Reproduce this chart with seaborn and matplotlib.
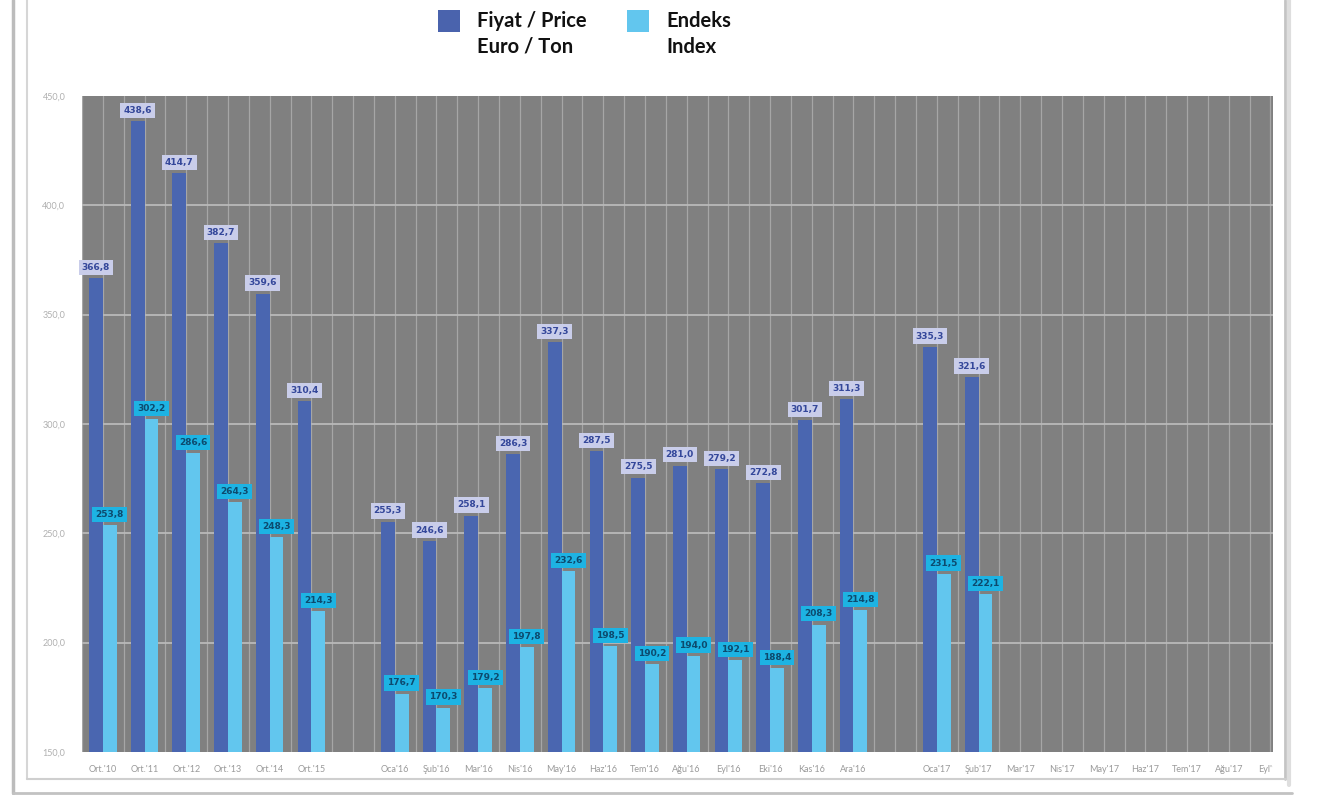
import matplotlib
matplotlib.use("Agg")
import numpy as np
import pandas as pd
import matplotlib.pyplot as plt
import seaborn as sns
from matplotlib.patches import Rectangle
from matplotlib.lines import Line2D
from matplotlib.transforms import Bbox, TransformedBbox

# ---- data -------------------------------------------------------------
# full slot sequence on the x axis (blank slots separate the yearly averages,
# 2016 and 2017)
slot_keys = ["Ort.'10", "Ort.'11", "Ort.'12", "Ort.'13", "Ort.'14", "Ort.'15", "gap1",
             "Oca'16", "Şub'16", "Mar'16", "Nis'16", "May'16", "Haz'16",
             "Tem'16", "Ağu'16", "Eyl'16", "Eki'16", "Kas'16", "Ara'16", "gap2",
             "Oca'17", "Şub'17", "Mar'17", "Nis'17", "May'17", "Haz'17",
             "Tem'17", "Ağu'17", "Eyl'17"]
tick_labels = [("" if k.startswith("gap") else k) for k in slot_keys]

periods = ["Ort.'10", "Ort.'11", "Ort.'12", "Ort.'13", "Ort.'14", "Ort.'15",
           "Oca'16", "Şub'16", "Mar'16", "Nis'16", "May'16", "Haz'16",
           "Tem'16", "Ağu'16", "Eyl'16", "Eki'16", "Kas'16", "Ara'16",
           "Oca'17", "Şub'17"]
price = [366.8, 438.6, 414.7, 382.7, 359.6, 310.4,
         255.3, 246.6, 258.1, 286.3, 337.3, 287.5,
         275.5, 281.0, 279.2, 272.8, 301.7, 311.3,
         335.3, 321.6]
index = [253.8, 302.2, 286.6, 264.3, 248.3, 214.3,
         176.7, 170.3, 179.2, 197.8, 232.6, 198.5,
         190.2, 194.0, 192.1, 188.4, 208.3, 214.8,
         231.5, 222.1]
series_names = ["Fiyat / Price", "Endeks / Index"]
y_ticks = [150, 200, 250, 300, 350, 400, 450]

df = pd.concat([
    pd.DataFrame({"period": periods, "value": price, "series": series_names[0]}),
    pd.DataFrame({"period": periods, "value": index, "series": series_names[1]}),
], ignore_index=True)

# ---- style ------------------------------------------------------------
PRICE_C = "#4a66b0"
INDEX_C = "#62c6ee"
W, H = 1323, 795

sns.set_style("white")
plt.rcParams["font.family"] = ["Lato", "DejaVu Sans"]

fig = plt.figure(figsize=(W / 100, H / 100), dpi=100)
fig.patch.set_facecolor("white")


def fx(x):
    return x / W


def fy(y):
    return 1 - y / H


ax = fig.add_axes([fx(82), fy(752), (1273 - 82) / W, (752 - 96) / H])
ax.set_facecolor("#808080")

sns.barplot(data=df, x="period", y="value", hue="series",
            order=slot_keys, hue_order=series_names,
            palette=[PRICE_C, INDEX_C], saturation=1,
            width=0.66, gap=0, legend=False, linewidth=0,
            errorbar=None, ax=ax, zorder=2)

ax.set_xlim(-0.5, 28.06)
ax.set_ylim(150, 450)

# grid: a vertical line every half slot, horizontal lines at the y ticks
for k in np.arange(-0.5, 28.1, 0.5):
    ax.axvline(k, color="#a6a6a6", lw=0.9, zorder=0.5)
for v in y_ticks[1:-1]:
    ax.axhline(v, color="#b9b9b9", lw=1.3, zorder=0.6)

for s in ax.spines.values():
    s.set_visible(False)

ax.set_xticks(range(len(slot_keys)))
ax.set_xticklabels(tick_labels, fontsize=6.5, color="#9a9a9a")
ax.set_yticks(y_ticks)
ax.set_yticklabels([f"{v:.1f}".replace(".", ",") for v in y_ticks],
                   fontsize=6.5, color="#b0b0b0")
ax.tick_params(axis="x", length=0, pad=9)
ax.tick_params(axis="y", length=0, pad=12)
ax.set_xlabel("")
ax.set_ylabel("")

# the last month label is cut at the right edge of the plot
clip = TransformedBbox(Bbox([[0, 0], [1273 / W, 1]]), fig.transFigure)
for lab in ax.get_xticklabels():
    lab.set_clip_box(clip)
    lab.set_clip_on(True)

# value labels in boxes above each bar
box_styles = [("#c9cdea", "#34479a"), ("#1db3e3", "#0d4a6e")]
for cont, (fc, tc) in zip(ax.containers, box_styles):
    labels = [("" if np.isnan(b.get_height()) else
               f"{b.get_height():.1f}".replace(".", ","))
              for b in cont]
    ax.bar_label(cont, labels=labels, padding=4.5, fontsize=6.5,
                 fontweight="bold", color=tc, family="DejaVu Sans",
                 bbox=dict(boxstyle="square,pad=0.35", fc=fc, ec="none"),
                 zorder=5)

# ---- legend -----------------------------------------------------------
for x0, col, txt in [(438, "#4a63ad", "Fiyat / Price\nEuro / Ton"),
                     (627, "#62c6ee", "Endeks\nIndex")]:
    fig.add_artist(Rectangle((fx(x0), fy(32)), 22 / W, 22 / H,
                             transform=fig.transFigure, fc=col, ec="none"))
    fig.text(fx(x0 + 39), fy(11), txt, ha="left", va="top",
             fontsize=14.5, fontweight="bold", color="#111111",
             family=["Lato", "DejaVu Sans"], linespacing=1.35)

# ---- page frame -------------------------------------------------------
def hline(y, x0, x1, color, lw):
    fig.add_artist(Line2D([fx(x0), fx(x1)], [fy(y), fy(y)],
                          transform=fig.transFigure, color=color, lw=lw))


def vline(x, y0, y1, color, lw):
    fig.add_artist(Line2D([fx(x), fx(x)], [fy(y0), fy(y1)],
                          transform=fig.transFigure, color=color, lw=lw))


vline(13, 0, 793, "#bcbcbc", 2.5)
vline(27, 0, 779, "#d6d6d6", 1.5)
vline(1285, 0, 779, "#c4c4c4", 2.0)
vline(1289, 0, 785, "#dedede", 3.0)
hline(779, 27, 1286, "#cfcfcf", 1.5)
hline(793, 13, 1292, "#c2c2c2", 2.0)

fig.savefig("out.png", dpi=100)
